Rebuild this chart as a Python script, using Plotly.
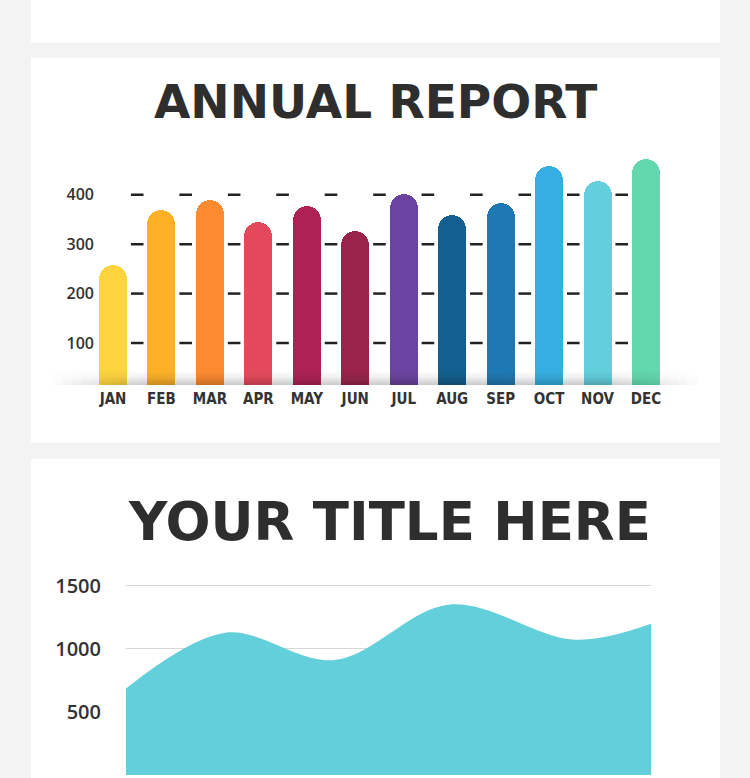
import numpy as np
import plotly.graph_objects as go

# ---------------- data ----------------
months = ["JAN", "FEB", "MAR", "APR", "MAY", "JUN", "JUL", "AUG", "SEP", "OCT", "NOV", "DEC"]
monthly_values = [258, 368, 388, 345, 377, 327, 400, 359, 383, 457, 428, 472]
bar_colors = ["#FDD43D", "#FDB026", "#FB8A30", "#E4495B", "#AE2153", "#99234B",
              "#6B43A0", "#135F8F", "#1E78B4", "#35AEE1", "#63CFDD", "#63D7AE"]
bar_ticks = [100, 200, 300, 400]

trend_t = [0, 18.9, 39.8, 61.7, 85.5, 100]
trend_values = [686, 1128, 912, 1352, 1072, 1199]
area_ticks = [500, 1000, 1500]

title_top = "ANNUAL REPORT"
title_bottom = "YOUR TITLE HERE"

# ---------------- geometry helpers ----------------
W, H = 750, 778
def px(x):
    return x / W
def py(y):
    return 1 - y / H

fig = go.Figure()

# bars
idx = np.arange(len(months))
fig.add_trace(go.Bar(
    x=idx, y=monthly_values, width=0.578,
    marker=dict(color=bar_colors, line=dict(width=0), cornerradius=14),
    xaxis="x", yaxis="y", hoverinfo="skip", showlegend=False))

# dashes in gaps between bars at each tick level
dx, dy = [], []
for v in bar_ticks:
    for g in idx[:-1]:
        c = g + 0.5
        dx += [c - 0.13, c + 0.13, None]
        dy += [v, v, None]
fig.add_trace(go.Scatter(x=dx, y=dy, mode="lines",
                         line=dict(color="#222222", width=2.5),
                         xaxis="x", yaxis="y", hoverinfo="skip", showlegend=False))

# soft shadow on the baseline (nested vertical gradients)
n_layers = 10
for k in range(n_layers):
    x0 = -1.25 + k * 0.2
    x1 = 12.05 - k * 0.2
    top = 50 - k * 1.0
    fig.add_trace(go.Scatter(
        x=[x0, x1, x1, x0, x0], y=[15, 15, top, top, 15],
        mode="lines", line=dict(width=0), fill="toself",
        fillgradient=dict(type="vertical",
                          colorscale=[[0, "rgba(0,0,0,0.024)"], [0.5, "rgba(0,0,0,0.007)"], [1, "rgba(0,0,0,0)"]]),
        xaxis="x", yaxis="y", hoverinfo="skip", showlegend=False))

# area chart
fig.add_trace(go.Scatter(
    x=trend_t, y=trend_values, mode="lines", line=dict(color="#63CFDA", width=0, shape="spline", smoothing=1.0),
    fill="tozeroy", fillcolor="#63CFDA",
    xaxis="x2", yaxis="y2", hoverinfo="skip", showlegend=False))

# panels
shapes = []
for (y0, y1) in [(-5, 39), (54, 441), (457, 790)]:
    shapes.append(dict(type="rect", xref="paper", yref="paper",
                       x0=px(31), x1=px(720), y0=py(y1), y1=py(y0),
                       fillcolor="#FFFFFF", line=dict(width=0), layer="below"))

annotations = [
    dict(text=title_top, x=px(375), y=py(98), xref="paper", yref="paper",
         showarrow=False, xanchor="center", yanchor="middle",
         font=dict(family="DejaVu Sans", size=47, color="#2E2E2E", weight="bold")),
    dict(text=title_bottom, x=px(389), y=py(520), xref="paper", yref="paper",
         showarrow=False, xanchor="center", yanchor="middle",
         font=dict(family="DejaVu Sans", size=53, color="#2E2E2E", weight="bold")),
]

x_left, x_right = 50, 700
xr0 = (x_left - 113) / 48.45
xr1 = (x_right - 113) / 48.45

fig.update_layout(
    width=W, height=H, margin=dict(l=0, r=0, t=0, b=0),
    paper_bgcolor="#F3F3F3", plot_bgcolor="rgba(0,0,0,0)",
    shapes=shapes, annotations=annotations, bargap=0,
    xaxis=dict(domain=[px(x_left), px(x_right)], range=[xr0, xr1],
               tickvals=list(idx), ticktext=months, showgrid=False, zeroline=False,
               showline=False, ticks="", fixedrange=True, ticklabelstandoff=3,
               tickfont=dict(family="Liberation Sans Narrow, DejaVu Sans Condensed, sans-serif",
                             size=15, color="#333333", weight="bold"),
               anchor="y"),
    yaxis=dict(domain=[py(383), py(142)], range=[15, 500], tickvals=bar_ticks,
               showgrid=False, zeroline=False, showline=False, ticks="",
               anchor="free", position=px(94),
               tickfont=dict(family="Open Sans", size=16, color="#333333", weight=600)),
    xaxis2=dict(domain=[px(126), px(651)], range=[0, 100], visible=False, anchor="y2"),
    yaxis2=dict(domain=[py(774.9), py(575)], range=[0, 1578], tickvals=area_ticks,
                showgrid=True, gridcolor="#D6D6D6", gridwidth=1, zeroline=False,
                showline=False, ticks="", anchor="free", position=px(101),
                tickfont=dict(family="Open Sans", size=20, color="#333333", weight=600)),
)

fig.write_html("out.html")
